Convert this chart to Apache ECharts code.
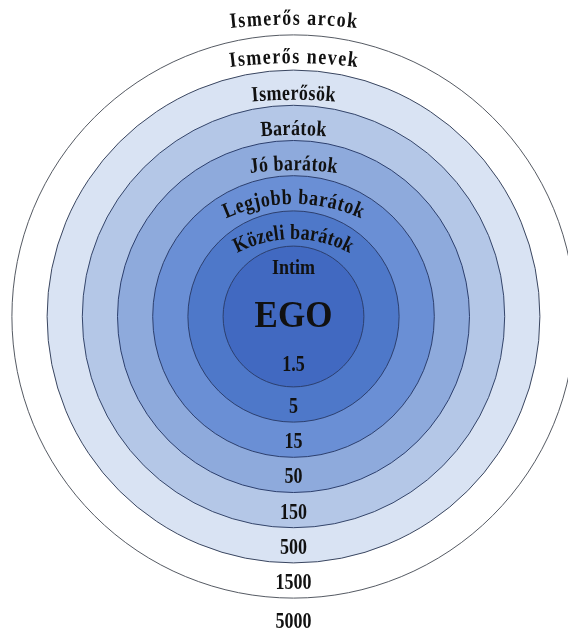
<!DOCTYPE html>
<html><head><meta charset="utf-8">
<script src="https://cdn.jsdelivr.net/npm/echarts@6/dist/echarts.min.js"></script>
<style>html,body{margin:0;padding:0;background:#fff;overflow:hidden}#c{width:568px;height:633px}</style>
</head><body><div id="c"></div>
<script>
// ---- data ----
const groupNames = ['Intim', 'Közeli barátok', 'Legjobb barátok', 'Jó barátok', 'Barátok', 'Ismerősök', 'Ismerős nevek', 'Ismerős arcok'];
const groupSizes = [1.5, 5, 15, 50, 150, 500, 1500, 5000];
const sizeLabels = ['1.5', '5', '15', '50', '150', '500', '1500', '5000'];
const centerLabel = 'EGO';

// ---- layout / style ----
const CX = 293.5, CY = 316.5, UNIT = 35.2;
const ringColors = ['#4169c1', '#4e78c9', '#6a8fd5', '#8eaadc', '#b4c7e7', '#d9e3f3', '#ffffff'];
const ringBorders = ['#2c3f6e', '#2c3f6e', '#2c3f6e', '#2c3f6e', '#34456a', '#3a4660', '#555a63'];
const FONT = '"Liberation Serif", "Times New Roman", serif';
// per top label: arc radius (0 = straight), letter spacing, vertical offset
const topArc = [0, 125, 170, 330, 420, 480, 520, 600];
const topSpacing = [0, 0.6, 1.0, 0.5, 0.5, 0.5, 1.5, 1.5];
const topShift = [0, 5, 5, 6.5, 6.5, 6.5, 5, 0];

const ctx = document.createElement('canvas').getContext('2d');
function ringOuter(k) { return (k === 0 ? 2 : k + 2) * UNIT; }
function ringMid(k) { return k === 0 ? 1.38 * UNIT : (k + 1.5) * UNIT; }

const labels = [];
groupNames.forEach((name, k) => {
  const y = k === 7 ? CY - 8.45 * UNIT : CY - ringMid(k) + topShift[k];
  labels.push({ text: name, y: y, size: 18, sy: 1.2, arc: topArc[k], ls: topSpacing[k] });
});
sizeLabels.forEach((t, k) => {
  const y = k === 7 ? CY + 8.68 * UNIT : CY + ringMid(k) + (k === 0 ? -0.5 : 2.5);
  labels.push({ text: t, y: y, size: 18, sy: 1.3, arc: 0, ls: 0 });
});
labels.push({ text: centerLabel, y: CY + 1, size: 35, sy: 1.08, arc: 0, ls: 0 });

function renderLabel(params, api) {
  const L = labels[api.value(0)];
  const font = 'bold ' + L.size + 'px ' + FONT;
  ctx.font = font;
  const chars = Array.from(L.text);
  const widths = chars.map(c => ctx.measureText(c).width + L.ls);
  const total = widths.reduce((a, b) => a + b, 0);
  const children = [];
  let acc = 0;
  chars.forEach((ch, i) => {
    const s = acc + widths[i] / 2 - total / 2;
    acc += widths[i];
    let x, y, rot = 0;
    if (L.arc > 0) {
      const th = s / L.arc;
      x = CX + L.arc * Math.sin(th);
      y = L.y + L.arc - L.arc * Math.cos(th);
      rot = -th;
    } else { x = CX + s; y = L.y; }
    children.push({ type: 'text', x: x, y: y, rotation: rot, scaleY: L.sy,
      style: { text: ch, font: font, fill: '#111', align: 'center', verticalAlign: 'middle' } });
  });
  return { type: 'group', children: children };
}

const series = [];
for (let k = ringColors.length - 1; k >= 0; k--) {
  series.push({
    type: 'pie', center: [CX, CY], radius: [0, ringOuter(k)], silent: true,
    startAngle: 90, label: { show: false }, labelLine: { show: false }, z: 2,
    data: [{ name: groupNames[k], value: groupSizes[k],
      itemStyle: { color: ringColors[k], borderColor: ringBorders[k], borderWidth: 1 } }]
  });
}
series.push({ type: 'custom', coordinateSystem: 'none', renderItem: renderLabel, silent: true, z: 10,
  data: labels.map((l, i) => [i]) });

const chart = echarts.init(document.getElementById('c'), null, { renderer: 'canvas' });
chart.setOption({ animation: false, backgroundColor: '#fff', series: series });
</script></body></html>
